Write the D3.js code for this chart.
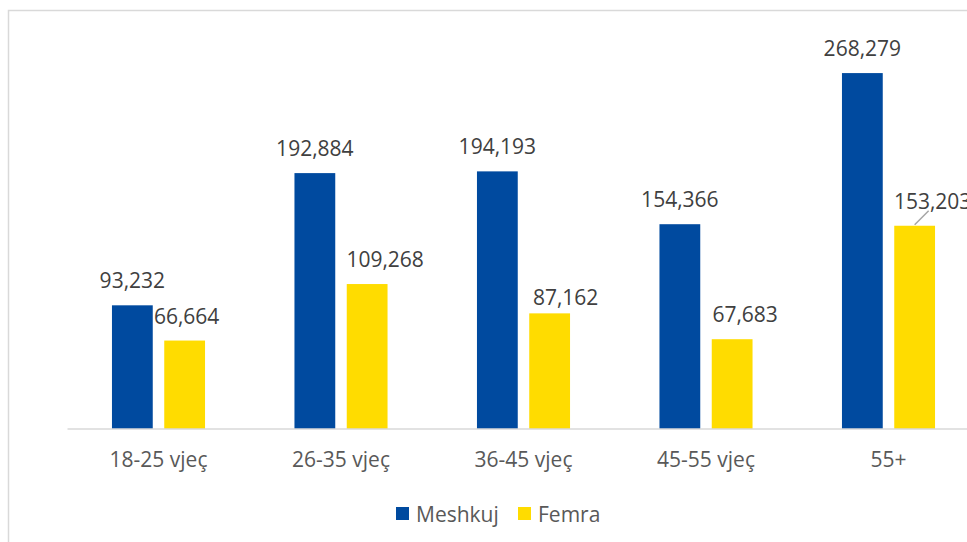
<!DOCTYPE html>
<html>
<head>
<meta charset="utf-8">
<script src="https://d3js.org/d3.v7.min.js"></script>
<style>
  body { margin: 0; background: #fff; }
  svg { display: block; font-family: "Open Sans", sans-serif; }
</style>
</head>
<body>
<svg id="frame"></svg>
<script>
  // data
  var categories = ["18-25 vjeç", "26-35 vjeç", "36-45 vjeç", "45-55 vjeç", "55+"];
  var seriesNames = ["Meshkuj", "Femra"];
  var meshkuj = [93232, 192884, 194193, 154366, 268279];
  var femra = [66664, 109268, 87162, 67683, 153203];
  var colors = ["#004a9f", "#ffdc00"];

  // the Femra labels were dragged around by hand in the original
  var femraLabelShift = [[2, 0], [18, 0], [16, 9], [13, 0], [18, 0]];

  var width = 967, height = 542;
  var svg = d3.select('#frame').attr('width', width).attr('height', height);

  // outer chart border (runs off the right and bottom of the picture)
  svg.append('rect')
    .attr('x', 8.5).attr('y', 10.5)
    .attr('width', 1000).attr('height', 600)
    .attr('fill', 'none')
    .attr('stroke', '#d9d9d9')
    .attr('stroke-width', 1.5);

  var baseline = 429;
  var x0 = d3.scaleBand()
    .domain(categories)
    .range([67.25, 979.75])
    .paddingInner(0.49)
    .paddingOuter(0.245);

  var x1 = d3.scaleBand()
    .domain(seriesNames)
    .range([0, x0.bandwidth()])
    .paddingInner(0.22);

  var y = d3.scaleLinear()
    .domain([0, 300000])
    .range([baseline, 31]);

  var rows = categories.map(function(c, i) {
    return {cat: c, i: i, vals: [
      {s: seriesNames[0], v: meshkuj[i]},
      {s: seriesNames[1], v: femra[i]}
    ]};
  });

  var groups = svg.append('g').selectAll('g')
    .data(rows)
    .enter().append('g')
    .attr('transform', function(d){ return 'translate(' + x0(d.cat) + ',0)'; });

  groups.selectAll('rect')
    .data(function(d){ return d.vals; })
    .enter().append('rect')
    .attr('x', function(d){ return x1(d.s); })
    .attr('y', function(d){ return y(d.v); })
    .attr('width', x1.bandwidth())
    .attr('height', function(d){ return baseline - y(d.v); })
    .attr('fill', function(d, i){ return colors[i]; });

  // x axis line
  var xAxis = svg.append('g')
    .attr('transform', 'translate(0,' + baseline + ')')
    .call(d3.axisBottom(x0).tickSize(0).tickPadding(0));
  xAxis.select('.domain')
    .attr('d', 'M67.5,0H980')
    .attr('stroke', '#d9d9d9')
    .attr('stroke-width', 1.5);
  xAxis.selectAll('.tick text')
    .attr('y', 38)
    .attr('dy', null)
    .attr('font-family', '"Open Sans", sans-serif')
    .attr('font-size', 21)
    .attr('fill', '#595959');

  var fmt = d3.format(',');

  // value labels
  groups.each(function(d) {
    var g = d3.select(this);
    var xb = x1(seriesNames[0]) + x1.bandwidth() / 2;
    g.append('text')
      .attr('x', xb)
      .attr('y', y(d.vals[0].v) - 17)
      .attr('text-anchor', 'middle')
      .attr('font-size', 21)
      .attr('fill', '#404040')
      .text(fmt(d.vals[0].v));

    var xf = x1(seriesNames[1]) + x1.bandwidth() / 2;
    var sh = femraLabelShift[d.i];
    g.append('text')
      .attr('x', xf + sh[0])
      .attr('y', y(d.vals[1].v) - 17 + sh[1])
      .attr('text-anchor', 'middle')
      .attr('font-size', 21)
      .attr('fill', '#404040')
      .text(fmt(d.vals[1].v));

    // leader line on the last one
    if (d.i == categories.length - 1) {
      g.append('line')
        .attr('x1', xf).attr('y1', y(d.vals[1].v) - 1)
        .attr('x2', xf + 14).attr('y2', y(d.vals[1].v) - 15)
        .attr('stroke', '#a6a6a6')
        .attr('stroke-width', 1.5);
    }
  });

  // legend
  var legend = svg.append('g').attr('transform', 'translate(396,507)');
  var legX = [0, 122];
  seriesNames.forEach(function(s, i) {
    legend.append('rect')
      .attr('x', legX[i]).attr('y', 0)
      .attr('width', 13).attr('height', 13)
      .attr('fill', colors[i]);
    legend.append('text')
      .attr('x', legX[i] + 20).attr('y', 15)
      .attr('font-size', 21)
      .attr('fill', '#595959')
      .text(s);
  });
</script>
</body>
</html>
